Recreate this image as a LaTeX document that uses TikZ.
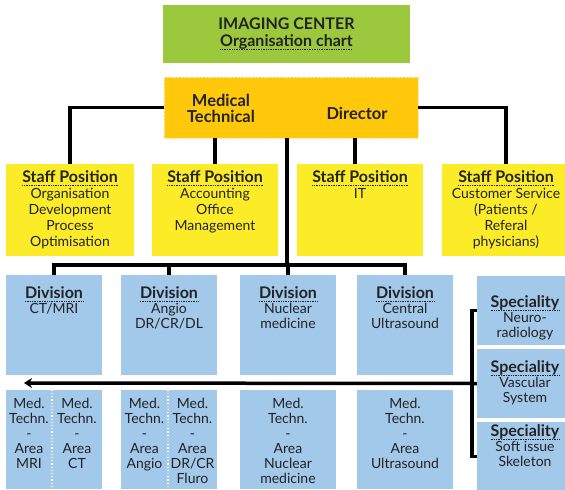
\documentclass[tikz,border=0pt]{standalone}
\usepackage{fontspec}
\setmainfont{Lato}
\usetikzlibrary{positioning,arrows.meta}
\definecolor{titlegreen}{RGB}{155,200,60}
\definecolor{dirorange}{RGB}{255,200,10}
\definecolor{staffyellow}{RGB}{252,236,40}
\definecolor{divblue}{RGB}{162,200,234}
\definecolor{ink}{RGB}{35,35,35}
% dotted underline
\newcommand\dotul[1]{\tikz[baseline=(w.base)]{\node[inner sep=0pt,outer sep=0pt](w){#1};\draw[ink,densely dotted,line width=0.7pt]([yshift=-2pt]w.base west)--([yshift=-2pt]w.base east);}}
% bold heading of a box
\newcommand\boxhead[1]{{\fontsize{16}{15}\selectfont\bfseries\dotul{#1}}}
\begin{document}
\begin{tikzpicture}[x=1pt,y=-1pt,
  cell/.style={rectangle, inner sep=0, minimum width=96pt},
  txt/.style={inner sep=0, align=center, text=ink, font=\fontsize{14}{15}\selectfont},
  line/.style={line width=3.5pt, black},
  sepline/.style={white, line width=1.2pt, dotted}]
\useasboundingbox (0,0) rectangle (565,490);
% title and director
\node[rectangle, inner sep=0, fill=titlegreen, minimum width=247pt, minimum height=58pt] (title) at (286.5,34){};
\node[txt, font=\fontsize{16}{17}\selectfont\bfseries] at (286.5,34){IMAGING CENTER\\\dotul{Organisation chart}};
\node[rectangle, inner sep=0, fill=dirorange, draw=white!60!dirorange, densely dotted, minimum width=254pt, minimum height=61pt] (dir) at (291,107.5){};
\node[txt, font=\fontsize{16.5}{16}\selectfont\bfseries] (medtech) at (221,108){Medical\\Technical};
\node[txt, font=\fontsize{16.5}{16}\selectfont\bfseries] (director) at (357,113){Director};
% staff positions
\node[rectangle, inner sep=0, fill=staffyellow, minimum width=128pt, minimum height=92pt] (stf1) at (70,210){};
\node[rectangle, inner sep=0, fill=staffyellow, minimum width=126pt, minimum height=92pt] (stf2) at (215,210){};
\node[rectangle, inner sep=0, fill=staffyellow, minimum width=126pt, minimum height=92pt] (stf3) at (360,210){};
\node[rectangle, inner sep=0, fill=staffyellow, minimum width=128pt, minimum height=92pt] (stf4) at (506,210){};
\node[txt, font=\fontsize{14}{16}\selectfont, below=7pt of stf1.north]{\boxhead{Staff Position}\\Organisation\\Development\\Process\\Optimisation};
\node[txt, font=\fontsize{14}{16}\selectfont, below=7pt of stf2.north]{\boxhead{Staff Position}\\Accounting\\Office\\Management};
\node[txt, font=\fontsize{14}{16}\selectfont, below=7pt of stf3.north]{\boxhead{Staff Position}\\IT};
\node[txt, font=\fontsize{14}{16}\selectfont, below=7pt of stf4.north]{\boxhead{Staff Position}\\Customer Service\\(Patients /\\Referal\\physicians)};
% divisions
\node[cell, fill=divblue, minimum height=100pt] (div1) at (54,325){};
\node[cell, fill=divblue, minimum height=100pt] (div2) at (169,325){};
\node[cell, fill=divblue, minimum height=100pt] (div3) at (288,325){};
\node[cell, fill=divblue, minimum height=100pt] (div4) at (405,325){};
\node[txt, below=12pt of div1.north]{\boxhead{Division}\\CT/MRI};
\node[txt, below=12pt of div2.north]{\boxhead{Division}\\Angio\\DR/CR/DL};
\node[txt, below=12pt of div3.north]{\boxhead{Division}\\Nuclear\\medicine};
\node[txt, below=12pt of div4.north]{\boxhead{Division}\\Central\\Ultrasound};
% specialities
\node[cell, fill=divblue, minimum height=69pt] (spc1) at (525,310.5){};
\node[cell, fill=divblue, minimum height=69pt] (spc2) at (525,383.5){};
\node[cell, fill=divblue, minimum height=69pt] (spc3) at (525,456.5){};
\node[txt, below=20pt of spc1.north]{\boxhead{Speciality}\\Neuro-\\radiology};
\node[txt, below=12pt of spc2.north]{\boxhead{Speciality}\\Vascular\\System};
\node[txt, below=3pt of spc3.north]{\boxhead{Speciality}\\Soft issue\\Skeleton};
% med. techn. areas
\node[cell, fill=divblue, minimum height=99pt] (mt1) at (54,439.5){};
\node[cell, fill=divblue, minimum height=99pt] (mt2) at (169,439.5){};
\node[cell, fill=divblue, minimum height=99pt] (mt3) at (288,439.5){};
\node[cell, fill=divblue, minimum height=99pt] (mt4) at (405,439.5){};
\draw[sepline] ([xshift=-2pt]mt1.north) -- ([xshift=-2pt]mt1.south);
\draw[sepline] ([xshift=-1pt]mt2.north) -- ([xshift=-1pt]mt2.south);
\node[txt, anchor=north] (mri) at (29,398){Med.\\Techn.\\-\\Area\\MRI};
\node[txt, anchor=north] (ct) at (77,398){Med.\\Techn.\\-\\Area\\CT};
\node[txt, anchor=north] (angio) at (144.5,398){Med.\\Techn.\\-\\Area\\Angio};
\node[txt, anchor=north] (drcr) at (192.5,398){Med.\\Techn.\\-\\Area\\DR/CR\\Fluro};
\node[txt, below=8pt of mt3.north]{Med.\\Techn.\\-\\Area\\Nuclear\\medicine};
\node[txt, below=8pt of mt4.north]{Med.\\Techn.\\-\\Area\\Ultrasound};
% connectors
\coordinate (hub) at (287,265);
\coordinate (arrowend) at (24,383);
\draw[line] (stf1.north) |- (dir.west);
\draw[line] (stf4.north) |- (dir.east);
\draw[line] (dir.south -| stf2.north) -- (stf2.north);
\draw[line] ([xshift=-5pt]dir.south -| stf3.north) -- ([xshift=-5pt]stf3.north);
\draw[line] (dir.south -| hub) -- (hub);
\draw[line] (div1.north) |- (hub) -| (div4.north);
\draw[line] (div2.north) -- (div2.north |- hub);
\draw[line] (div3.north) -- (div3.north |- hub);
\draw[line] (spc1.west) -- ++(-5,0) |- (spc3.west);
\draw[line, -{Stealth[length=8pt,width=10pt]}] (spc2.west) -- (arrowend);
\end{tikzpicture}
\end{document}
